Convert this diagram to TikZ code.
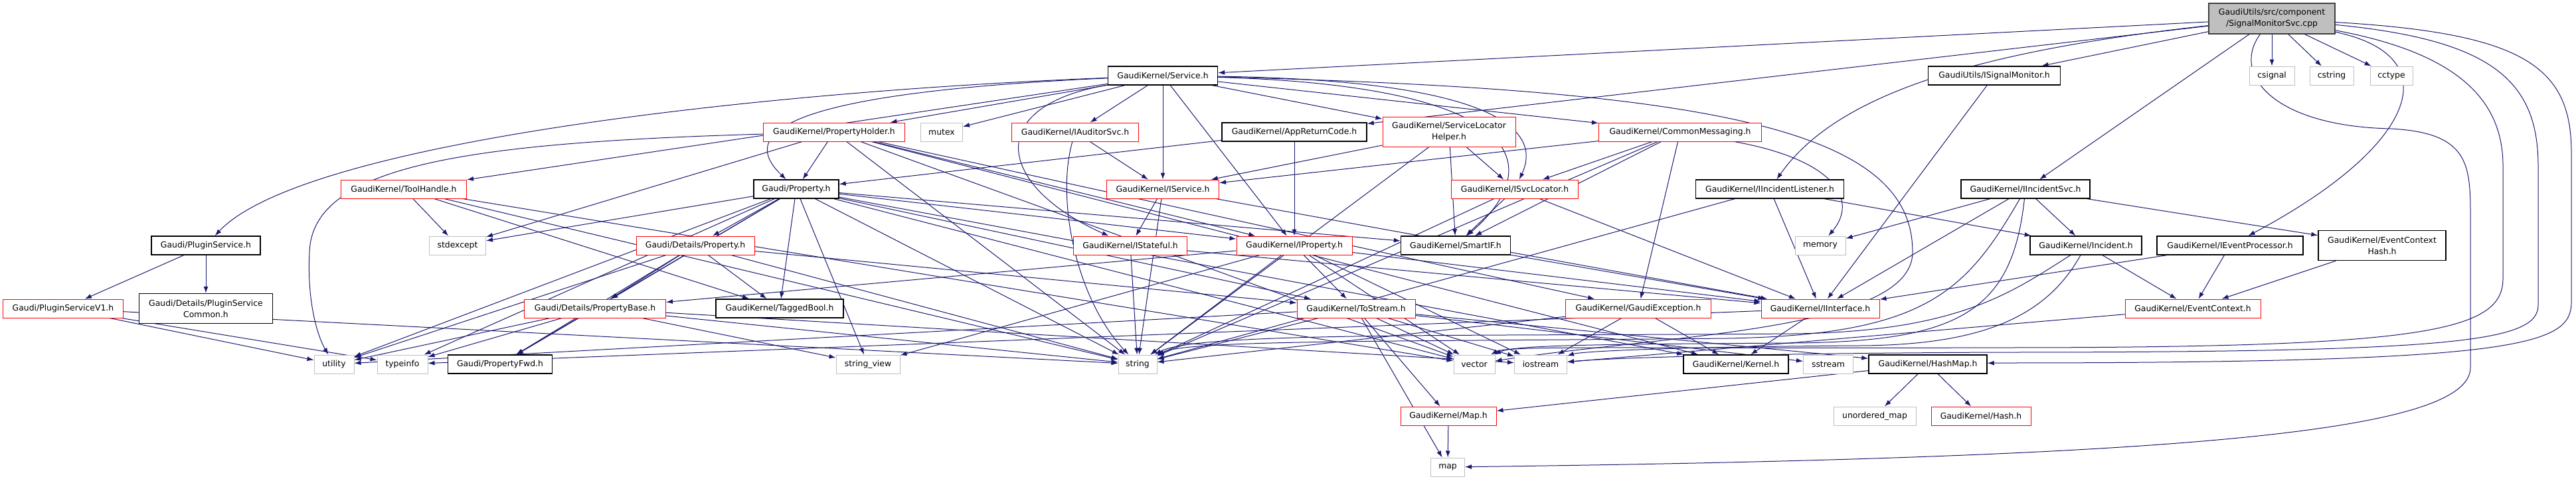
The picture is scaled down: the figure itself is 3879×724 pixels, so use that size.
\documentclass[tikz,border=0pt]{standalone}
\usepackage{fontspec}
\setmainfont{DejaVu Sans}
\usetikzlibrary{arrows.meta}
\definecolor{edgeblue}{HTML}{191970}
\definecolor{grey75}{HTML}{BFBFBF}
\definecolor{grey25}{HTML}{404040}
\pgfdeclarelayer{edges}
\pgfsetlayers{edges,main}
\tikzstyle{every node}=[font=\fontsize{12.4}{17}\selectfont]
\tikzstyle{hdr}=[draw, fill=white, inner sep=0pt, minimum height=28pt, align=center]
\tikzstyle{blk}=[hdr, draw=black, line width=1.4pt]
\tikzstyle{trunc}=[hdr, draw=red, line width=1pt]
\tikzstyle{sys}=[hdr, draw=grey75, line width=1pt]
\tikzstyle{srcfile}=[hdr, fill=grey75, draw=grey25, line width=1.4pt, minimum height=46pt]
\tikzstyle{dep}=[->, draw=edgeblue, line width=1pt]

\begin{document}
\begin{tikzpicture}[x=1pt, y=-1pt, >={Latex[length=10pt,width=7pt]}]
    \useasboundingbox (0,0) rectangle (3879,724);

    \node[srcfile, minimum width=190pt] (top) at (3421,28) {GaudiUtils/src/component\\/SignalMonitorSvc.cpp};

    \node[blk, minimum width=165pt] (svc) at (1751,114) {GaudiKernel/Service.h};
    \node[blk, minimum width=199pt] (isig) at (3003,114) {GaudiUtils/ISignalMonitor.h};
    \node[sys, minimum width=68pt] (csignal) at (3421,114) {csignal};
    \node[sys, minimum width=66pt] (cstring) at (3511,114) {cstring};
    \node[sys, minimum width=64pt] (cctype) at (3601,114) {cctype};

    \node[trunc, minimum width=213pt] (ph) at (1256,199) {GaudiKernel/PropertyHolder.h};
    \node[sys, minimum width=63pt] (mutex) at (1418,199) {mutex};
    \node[trunc, minimum width=191pt] (iaud) at (1619,199) {GaudiKernel/IAuditorSvc.h};
    \node[blk, minimum width=218pt] (arc) at (1949,199) {GaudiKernel/AppReturnCode.h};
    \node[trunc, minimum width=200pt, minimum height=45pt] (slh) at (2182,199) {GaudiKernel/ServiceLocator\\Helper.h};
    \node[trunc, minimum width=245pt] (cm) at (2530,199) {GaudiKernel/CommonMessaging.h};

    \node[trunc, minimum width=189pt] (th) at (608,285) {GaudiKernel/ToolHandle.h};
    \node[blk, minimum width=128pt] (prop) at (1199,285) {Gaudi/Property.h};
    \node[trunc, minimum width=169pt] (isv) at (1751,285) {GaudiKernel/IService.h};
    \node[trunc, minimum width=191pt] (isl) at (2281,285) {GaudiKernel/ISvcLocator.h};
    \node[blk, minimum width=223pt] (iil) at (2665,285) {GaudiKernel/IIncidentListener.h};
    \node[blk, minimum width=194pt] (iis) at (3050,285) {GaudiKernel/IIncidentSvc.h};

    \node[blk, minimum width=164pt] (ps) at (310,370) {Gaudi/PluginService.h};
    \node[sys, minimum width=85pt] (stdexcept) at (689,370) {stdexcept};
    \node[trunc, minimum width=178pt] (dprop) at (1047,370) {Gaudi/Details/Property.h};
    \node[trunc, minimum width=171pt] (ist) at (1702,370) {GaudiKernel/IStateful.h};
    \node[trunc, minimum width=174pt] (ip) at (1949,370) {GaudiKernel/IProperty.h};
    \node[blk, minimum width=165pt] (sif) at (2192,370) {GaudiKernel/SmartIF.h};
    \node[sys, minimum width=76pt] (memory) at (2741,370) {memory};
    \node[blk, minimum width=168pt] (inc) at (3141,370) {GaudiKernel/Incident.h};
    \node[blk, minimum width=220pt] (iep) at (3358,370) {GaudiKernel/IEventProcessor.h};
    \node[blk, minimum width=192pt, minimum height=45pt] (ech) at (3587,370) {GaudiKernel/EventContext\\Hash.h};

    \node[trunc, minimum width=181pt] (psv1) at (95,465) {Gaudi/PluginServiceV1.h};
    \node[blk, minimum width=201pt, minimum height=45pt] (psc) at (310,465) {Gaudi/Details/PluginService\\Common.h};
    \node[trunc, minimum width=213pt] (pb) at (896,465) {Gaudi/Details/PropertyBase.h};
    \node[blk, minimum width=192pt] (tb) at (1174,465) {GaudiKernel/TaggedBool.h};
    \node[trunc, minimum width=178pt] (ts) at (2042,465) {GaudiKernel/ToStream.h};
    \node[trunc, minimum width=219pt] (gex) at (2467,465) {GaudiKernel/GaudiException.h};
    \node[trunc, minimum width=178pt] (ii) at (2741,465) {GaudiKernel/IInterface.h};
    \node[trunc, minimum width=204pt] (ec) at (3302,465) {GaudiKernel/EventContext.h};

    \node[sys, minimum width=60pt] (utility) at (503,549) {utility};
    \node[sys, minimum width=76pt] (typeinfo) at (606,549) {typeinfo};
    \node[blk, minimum width=157pt] (pfwd) at (753,549) {Gaudi/PropertyFwd.h};
    \node[sys, minimum width=96pt] (strview) at (1307,549) {string\_view};
    \node[sys, minimum width=58pt] (string) at (1713,549) {string};
    \node[sys, minimum width=62pt] (vector) at (2220,549) {vector};
    \node[sys, minimum width=79pt] (iostream) at (2320,549) {iostream};
    \node[blk, minimum width=158pt] (kernel) at (2614,549) {GaudiKernel/Kernel.h};
    \node[sys, minimum width=75pt] (sstream) at (2753,549) {sstream};
    \node[blk, minimum width=178pt] (hm) at (2903,549) {GaudiKernel/HashMap.h};

    \node[trunc, minimum width=144pt] (maph) at (2181,627) {GaudiKernel/Map.h};
    \node[sys, minimum width=124pt] (umap) at (2823,627) {unordered\_map};
    \node[trunc, minimum width=150pt] (hash) at (2983,627) {GaudiKernel/Hash.h};
    \node[sys, minimum width=51pt] (map) at (2180,704) {map};

    \begin{pgfonlayer}{edges}
    \foreach \t in {isig,csignal,cstring,cctype,iis,svc,arc}
        \draw[dep] (top) -- (\t);
    \draw[dep] (top) .. controls (3360,110) and (3420,190) .. (3600,194) .. controls (3720,200) and (3720,250) .. (3720,330) -- (3720,554) .. controls (3720,650) and (3300,690) .. (map);
    \draw[dep] (top) .. controls (3700,80) and (3769,150) .. (3769,250) -- (3769,420) .. controls (3769,500) and (3650,524) .. (3010,524) .. controls (2500,526) and (2270,520) .. (vector);
    \draw[dep] (top) .. controls (3750,60) and (3822,120) .. (3822,250) -- (3822,460) .. controls (3822,515) and (3700,531) .. (3010,531) .. controls (2600,533) and (2420,540) .. (iostream);
    \draw[dep] (top) .. controls (3800,50) and (3872,100) .. (3872,230) -- (3872,455) .. controls (3872,520) and (3800,547) .. (3010,547) -- (hm);
    \draw[dep] (top) .. controls (3690,85) and (3640,220) .. (iep);
    \draw[dep] (top) .. controls (2950,80) and (2760,150) .. (iil);

    \foreach \t in {ph,mutex,iaud,isv,ip,slh,cm,th}
        \draw[dep] (svc) -- (\t);
    \draw[dep] (svc) .. controls (1100,140) and (450,220) .. (ps);
    \draw[dep] (svc) .. controls (1480,160) and (1500,280) .. (ist);
    \draw[dep] (svc) .. controls (1180,140) and (1110,200) .. (prop);
    \draw[dep] (svc) .. controls (2200,120) and (2330,180) .. (isl);
    \draw[dep] (svc) .. controls (2300,130) and (2330,250) .. (sif);
    \draw[dep] (svc) .. controls (2600,135) and (2880,200) .. (2880,380) .. controls (2880,500) and (2500,505) .. (vector);

    \draw[dep] (isig) -- (ii);

    \foreach \t in {prop,stdexcept,ip,gex,kernel,string,vector}
        \draw[dep] (ph) -- (\t);
    \draw[dep] (ph) .. controls (700,215) and (470,250) .. (466,380) .. controls (462,460) and (480,510) .. (utility);

    \draw[dep] (iaud) -- (isv);
    \draw[dep] (iaud) .. controls (1590,300) and (1620,450) .. (string);
    \foreach \t in {prop,ip}
        \draw[dep] (arc) -- (\t);
    \foreach \t in {isv,isl,sif,string}
        \draw[dep] (slh) -- (\t);
    \foreach \t in {isv,isl,sif,gex,string}
        \draw[dep] (cm) -- (\t);
    \draw[dep] (cm) .. controls (2760,240) and (2800,300) .. (memory);

    \foreach \t in {stdexcept,tb,string,vector}
        \draw[dep] (th) -- (\t);
    \foreach \t in {dprop,pb,tb,strview,stdexcept,utility,typeinfo,pfwd,ip,sif,kernel,ts,string,vector}
        \draw[dep] (prop) -- (\t);
    \foreach \t in {ist,string,ii}
        \draw[dep] (isv) -- (\t);
    \foreach \t in {sif,string,ii}
        \draw[dep] (isl) -- (\t);
    \foreach \t in {string,ii,inc}
        \draw[dep] (iil) -- (\t);
    \foreach \t in {memory,ii,inc,ech}
        \draw[dep] (iis) -- (\t);
    \draw[dep] (iis) .. controls (2960,440) and (2900,505) .. (2600,510) .. controls (2100,515) and (1790,512) .. (string);
    \draw[dep] (iis) .. controls (3030,470) and (2950,515) .. (2700,517) .. controls (2400,519) and (2280,520) .. (vector);

    \foreach \t in {psv1,psc}
        \draw[dep] (ps) -- (\t);
    \foreach \t in {pb,tb,pfwd,ts,string,utility}
        \draw[dep] (dprop) -- (\t);
    \foreach \t in {string,ii}
        \draw[dep] (ist) -- (\t);
    \foreach \t in {pb,ts,string,strview,vector,iostream,ii}
        \draw[dep] (ip) -- (\t);
    \draw[dep] (sif) -- (ii);
    \draw[dep] (inc) -- (ec);
    \draw[dep] (inc) .. controls (3030,440) and (2950,500) .. (2700,503) .. controls (2200,507) and (1800,500) .. (string);
    \draw[dep] (inc) .. controls (3080,480) and (2980,520) .. (2800,521) .. controls (2500,523) and (2380,530) .. (iostream);
    \foreach \t in {ec,ii}
        \draw[dep] (iep) -- (\t);
    \draw[dep] (ech) -- (ec);

    \foreach \t in {utility,typeinfo,string}
        \draw[dep] (psv1) -- (\t);
    \foreach \t in {pfwd,utility,typeinfo,string,strview,iostream}
        \draw[dep] (pb) -- (\t);
    \foreach \t in {string,map,maph,vector,iostream,sstream,hm,utility}
        \draw[dep] (ts) -- (\t);
    \foreach \t in {string,iostream,kernel}
        \draw[dep] (gex) -- (\t);
    \foreach \t in {kernel,typeinfo}
        \draw[dep] (ii) -- (\t);
    \draw[dep] (ec) -- (iostream);

    \foreach \t in {maph,umap,hash}
        \draw[dep] (hm) -- (\t);
    \draw[dep] (maph) -- (map);
    \end{pgfonlayer}
\end{tikzpicture}
\end{document}
